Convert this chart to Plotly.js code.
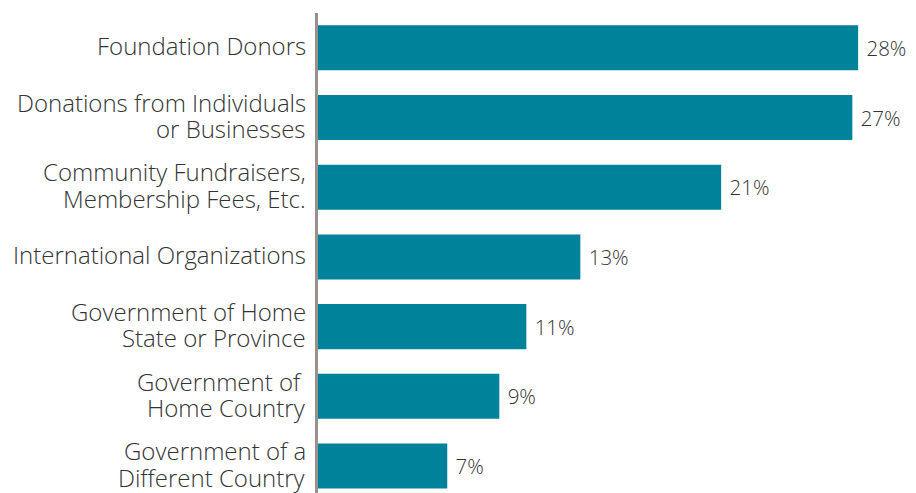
<!DOCTYPE html>
<html>
<head>
<meta charset="utf-8">
<script src="https://cdn.plot.ly/plotly-3.0.1.min.js"></script>
<style>html,body{margin:0;padding:0;background:#fff;}#chart{width:916px;height:493px;}</style>
</head>
<body>
<div id="chart"></div>
<script>
const categories = [
  "Foundation Donors",
  "Donations from Individuals<br>or Businesses",
  "Community Fundraisers,<br>Membership Fees, Etc.",
  "International Organizations",
  "Government of Home<br>State or Province",
  "Government of <br>Home Country",
  "Government of a<br>Different Country"
];
const values = [28.0, 27.7, 20.9, 13.6, 10.8, 9.4, 6.7];
const valueLabels = ["28%", "27%", "21%", "13%", "11%", "9%", "7%"];

const FONT = "'Open Sans', sans-serif";
const LINE_H = 26.5;

const trace = {
  type: "bar",
  orientation: "h",
  y: categories,
  x: values,
  text: valueLabels.map(s => "\u00A0" + s),
  textposition: "outside",
  cliponaxis: false,
  textfont: {family: FONT, size: 20.5, weight: 300, color: "#333333"},
  marker: {color: "#00829A"},
  hoverinfo: "none"
};

// category labels drawn line by line for tighter line spacing
const annotations = [];
categories.forEach(cat => {
  const lines = cat.split("<br>");
  const n = lines.length;
  lines.forEach((ln, j) => {
    annotations.push({
      xref: "paper", x: 0, xanchor: "right", xshift: -10,
      yref: "y", y: cat, yanchor: "middle",
      yshift: ((n - 1) / 2 - j) * LINE_H + 2,
      text: ln, showarrow: false,
      font: {family: FONT, size: 24, weight: 300, color: "#333333"}
    });
  });
});

const layout = {
  width: 916, height: 493,
  margin: {l: 318, r: 0, t: 13, b: 0},
  paper_bgcolor: "#ffffff",
  plot_bgcolor: "#ffffff",
  showlegend: false,
  bargap: 0.354,
  font: {family: FONT, color: "#333333"},
  xaxis: {range: [0, 31.0], visible: false, showgrid: false, zeroline: false, fixedrange: true},
  yaxis: {
    type: "category",
    range: [6.387, -0.5],
    showline: true, linecolor: "#9b918c", linewidth: 3,
    showgrid: false, zeroline: false,
    ticks: "", showticklabels: false
  },
  annotations: annotations
};

Plotly.newPlot("chart", [trace], layout, {staticPlot: true, displayModeBar: false});
</script>
</body>
</html>
